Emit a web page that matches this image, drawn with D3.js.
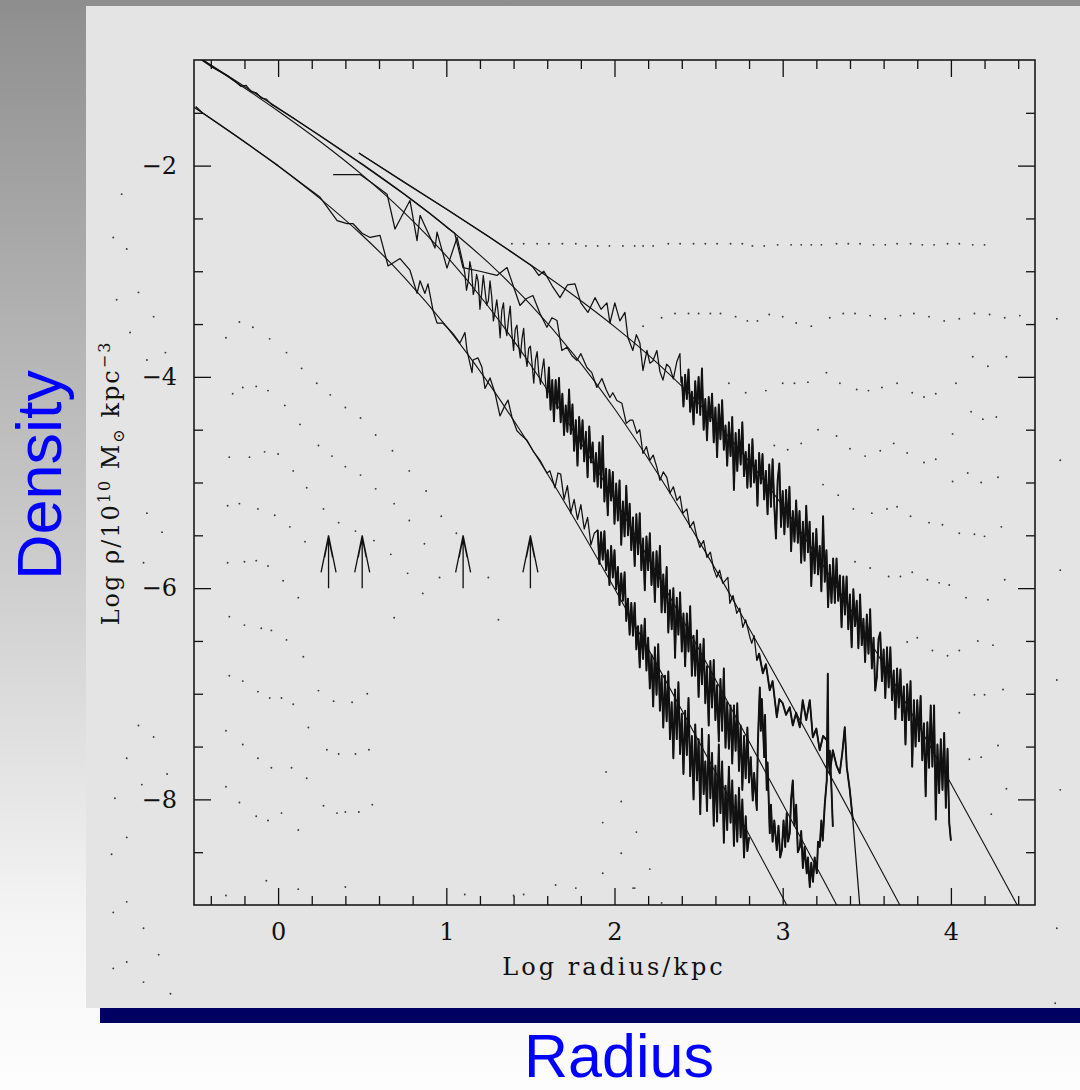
<!DOCTYPE html>
<html>
<head>
<meta charset="utf-8">
<script src="https://cdn.jsdelivr.net/npm/d3@7"></script>
<style>
  body { margin: 0; background: #fff; }
  svg { display: block; }
</style>
</head>
<body>
<div id="vis"></div>
<script>
// axis ticks (log radius / log density)
var xMajorTicks = [0, 1, 2, 3, 4];
var xMinorTicks = [-0.4, -0.2, 0.2, 0.4, 0.6, 0.8, 1.2, 1.4, 1.6, 1.8, 2.2, 2.4, 2.6, 2.8, 3.2, 3.4, 3.6, 3.8, 4.2, 4.4];
var yMajorTicks = [-2, -4, -6, -8];
var yMinorTicks = [-1.5, -2.5, -3, -3.5, -4.5, -5, -5.5, -6.5, -7, -7.5, -8.5];

// arrows marking radii
var arrowRadii = [0.3, 0.5, 1.1, 1.5];
var arrowFrom = -6, arrowTo = -5.5;

// smooth profile fits [log r, log rho]
var fit1 = [[-0.5,-1.447],[-0.25,-1.717],[0,-2.003],[0.25,-2.312],[0.5,-2.659],[0.75,-3.057],[1.0,-3.522],[1.25,-4.057],[1.5,-4.659],[1.75,-5.312],[2.0,-6.003],[2.25,-6.717],[2.5,-7.447],[2.75,-8.185],[3.0,-8.929],[3.1,-9.23]];
var fit2 = [[-0.5,-0.947],[-0.25,-1.21],[0,-1.483],[0.25,-1.772],[0.5,-2.088],[0.75,-2.444],[1.0,-2.855],[1.25,-3.334],[1.5,-3.883],[1.75,-4.496],[2.0,-5.158],[2.25,-5.854],[2.5,-6.572],[2.75,-7.304],[3.0,-8.044],[3.25,-8.788],[3.4,-9.236]];
var fit3 = [[-0.5,-0.945],[-0.25,-1.198],[0,-1.455],[0.25,-1.716],[0.5,-1.985],[0.75,-2.269],[1.0,-2.576],[1.25,-2.919],[1.5,-3.313],[1.75,-3.772],[2.0,-4.302],[2.25,-4.898],[2.5,-5.548],[2.75,-6.237],[3.0,-6.95],[3.25,-7.678],[3.5,-8.416],[3.75,-9.159]];
var fit4 = [[0.48,-1.88],[0.75,-2.154],[1.0,-2.41],[1.25,-2.67],[1.5,-2.939],[1.75,-3.22],[2.0,-3.524],[2.25,-3.862],[2.5,-4.249],[2.75,-4.70],[3.0,-5.221],[3.25,-5.81],[3.5,-6.454],[3.75,-7.138],[4.0,-7.849],[4.25,-8.576],[4.5,-9.313]];

// measured density profiles [log r, log rho]
var halo1 = [[-0.49,-1.44],[-0.45,-1.50],[-0.25,-1.72],[0,-2.00],[0.15,-2.18],[0.25,-2.30],[0.351,-2.52],[0.41,-2.55],[0.446,-2.55],[0.499,-2.64],[0.547,-2.68],[0.606,-2.66],[0.654,-2.95],[0.725,-2.88],[0.784,-2.99],[0.826,-3.21],[0.844,-3.09],[0.873,-3.21],[0.891,-3.12],[0.921,-3.37],[0.945,-3.49],[0.98,-3.49],[1.04,-3.59],[1.081,-3.68],[1.111,-3.58],[1.123,-3.75],[1.153,-3.96],[1.159,-3.84],[1.188,-3.82],[1.212,-3.91],[1.23,-4.11],[1.26,-4.01],[1.289,-4.15],[1.319,-4.37],[1.349,-4.27],[1.367,-4.22],[1.39,-4.38],[1.42,-4.51],[1.438,-4.54],[1.48,-4.60],[1.515,-4.70],[1.557,-4.79],[1.598,-4.91],[1.616,-4.89],[1.646,-5.05],[1.664,-4.91],
  [1.68,-4.92],[1.70,-5.16],[1.72,-5.03],[1.74,-5.29],[1.76,-5.16],[1.78,-5.35],[1.80,-5.21],[1.82,-5.44],[1.84,-5.33],[1.86,-5.59],[1.88,-5.48],
  [1.90,-5.45],[1.91,-5.77],[1.92,-5.47],[1.93,-5.73],[1.94,-5.46],[1.95,-5.83],[1.96,-5.64],[1.97,-5.97],[1.98,-5.60],[1.99,-5.90],
  [2.00,-5.64],[2.01,-6.01],[2.02,-5.80],[2.03,-6.16],[2.04,-5.86],[2.05,-6.12],[2.06,-5.85],[2.07,-6.31],[2.08,-6.10],[2.09,-6.44],
  [2.10,-6.14],[2.11,-6.45],[2.12,-6.14],[2.13,-6.58],[2.14,-6.36],[2.15,-6.75],[2.16,-6.35],[2.17,-6.67],[2.18,-6.29],[2.19,-6.78],
  [2.20,-6.47],[2.21,-6.95],[2.22,-6.63],[2.23,-7.12],[2.24,-6.56],[2.25,-7.01],[2.26,-6.53],[2.27,-7.16],[2.28,-6.83],[2.29,-7.32],
  [2.30,-6.83],[2.31,-7.26],[2.32,-6.79],[2.33,-7.43],[2.34,-7.08],[2.35,-7.61],[2.36,-6.96],[2.37,-7.43],[2.38,-6.89],[2.39,-7.57],
  [2.40,-7.19],[2.41,-7.76],[2.42,-7.16],[2.43,-7.58],[2.44,-7.04],[2.45,-7.78],[2.46,-7.40],[2.47,-8.00],[2.48,-7.29],[2.49,-7.82],
  [2.50,-7.43],[2.51,-8.14],[2.52,-7.33],[2.53,-7.95],[2.54,-7.64],[2.55,-8.11],[2.56,-7.39],[2.57,-7.99],[2.58,-7.56],[2.59,-8.25],
  [2.60,-7.68],[2.61,-8.21],[2.62,-7.48],[2.63,-8.13],[2.64,-7.64],[2.65,-8.41],[2.66,-7.87],[2.67,-8.29],[2.68,-7.69],[2.69,-8.22],
  [2.70,-7.82],[2.71,-8.44],[2.72,-7.96],[2.73,-8.40],[2.74,-7.89],[2.75,-8.36],[2.76,-8.00],[2.77,-8.55],[2.78,-8.16],[2.79,-8.49],
  [2.80,-8.36]];

var halo2 = [[0.327,-2.085],[0.487,-2.085],[0.55,-2.155],[0.648,-2.27],[0.695,-2.60],[0.784,-2.33],[0.826,-2.71],[0.844,-2.47],[0.933,-2.78],[0.945,-2.63],[1.004,-2.97],[1.064,-2.68],
  [1.10,-2.93],[1.11,-3.02],[1.12,-3.18],[1.13,-3.10],[1.14,-2.91],[1.15,-2.99],[1.16,-3.22],[1.17,-3.16],[1.18,-3.03],[1.19,-3.10],[1.20,-3.36],[1.21,-3.21],[1.22,-3.04],[1.23,-3.18],[1.24,-3.32],[1.25,-3.28],[1.26,-3.09],[1.27,-3.24],[1.28,-3.47],[1.29,-3.38],[1.30,-3.27],[1.31,-3.41],[1.32,-3.63],[1.33,-3.37],[1.34,-3.30],[1.35,-3.52],[1.36,-3.61],[1.37,-3.45],[1.38,-3.33],[1.39,-3.59],[1.40,-3.75],[1.41,-3.55],[1.42,-3.51],[1.43,-3.70],[1.44,-3.82],[1.45,-3.64],[1.46,-3.54],[1.47,-3.79],[1.48,-3.90],[1.49,-3.73],[1.50,-3.71],[1.51,-3.88],[1.52,-4.06],[1.53,-3.84],[1.54,-3.76],[1.55,-3.97],[1.56,-4.07],[1.57,-3.93],[1.58,-3.83],[1.59,-4.05],
  [1.60,-4.20],[1.61,-3.91],[1.62,-4.31],[1.63,-4.03],[1.64,-4.42],[1.65,-4.03],[1.66,-4.30],[1.67,-4.01],[1.68,-4.43],[1.69,-4.16],
  [1.70,-4.55],[1.71,-4.27],[1.72,-4.52],[1.73,-4.12],[1.74,-4.54],[1.75,-4.26],[1.76,-4.70],[1.77,-4.41],[1.78,-4.84],[1.79,-4.38],
  [1.80,-4.68],[1.81,-4.41],[1.82,-4.80],[1.83,-4.52],[1.84,-4.95],[1.85,-4.47],[1.86,-4.81],[1.87,-4.62],[1.88,-4.99],[1.89,-4.72],
  [1.90,-5.04],[1.91,-4.62],[1.92,-5.05],[1.93,-4.56],[1.94,-5.18],[1.95,-4.87],[1.96,-5.31],[1.97,-4.88],[1.98,-5.17],[1.99,-4.90],
  [2.00,-5.39],[2.01,-5.01],[2.02,-5.36],[2.03,-4.98],[2.04,-5.59],[2.05,-5.18],[2.06,-5.51],[2.07,-5.03],[2.08,-5.50],[2.09,-5.20],
  [2.10,-5.64],[2.11,-5.33],[2.12,-5.79],[2.13,-5.30],[2.14,-5.68],[2.15,-5.29],[2.16,-5.83],[2.17,-5.53],[2.18,-6.02],[2.19,-5.51],
  [2.20,-5.83],[2.21,-5.48],[2.22,-5.97],[2.23,-5.66],[2.24,-6.13],[2.25,-5.65],[2.26,-5.99],[2.27,-5.60],[2.28,-6.23],[2.29,-5.87],
  [2.30,-6.23],[2.31,-5.80],[2.32,-6.42],[2.33,-6.02],[2.34,-6.39],[2.35,-6.00],[2.36,-6.66],[2.37,-6.09],[2.38,-6.44],[2.39,-6.04],
  [2.40,-6.60],[2.41,-6.24],[2.42,-6.74],[2.43,-6.24],[2.44,-6.60],[2.45,-6.17],[2.46,-6.83],[2.47,-6.45],[2.48,-6.83],[2.49,-6.40],
  [2.50,-7.03],[2.51,-6.53],[2.52,-6.91],[2.53,-6.48],[2.54,-7.09],[2.55,-6.74],[2.56,-7.30],[2.57,-6.69],[2.58,-7.13],[2.59,-6.68],
  [2.60,-7.25],[2.61,-6.92],[2.62,-7.45],[2.63,-6.86],[2.64,-7.35],[2.65,-6.76],[2.66,-7.51],[2.67,-7.08],[2.68,-7.52],[2.69,-7.11],
  [2.70,-7.66],[2.71,-7.11],[2.72,-7.54],[2.73,-7.09],[2.74,-7.73],[2.75,-7.30],[2.76,-7.91],[2.77,-7.40],[2.78,-7.80],[2.79,-7.32],
  [2.80,-7.84],[2.81,-7.60],[2.822,-8.01],[2.83,-7.75],[2.846,-8.10],[2.852,-7.50],[2.858,-7.20],[2.864,-6.94],[2.87,-7.35],[2.876,-7.05],[2.882,-7.28],[2.89,-7.60],[2.895,-7.20],[2.905,-7.91],[2.91,-7.65],[2.923,-8.32],[2.93,-8.05],[2.94,-8.40],[2.95,-8.20],[2.965,-8.48],[2.975,-8.25],[2.985,-8.55],[2.995,-8.48],[3.005,-8.20],[3.015,-8.45],[3.024,-8.13],[3.032,-8.40],[3.042,-8.32],[3.05,-8.00],[3.06,-7.82],[3.07,-8.25],[3.08,-8.05],[3.09,-8.50],[3.102,-8.45],[3.11,-8.30],[3.12,-8.65],[3.13,-8.45],[3.143,-8.70],[3.15,-8.55],[3.161,-8.83],[3.17,-8.60],[3.18,-8.78],[3.19,-8.55],[3.203,-8.70],[3.21,-8.40],[3.22,-8.45],[3.23,-8.20],[3.238,-8.39],[3.25,-8.05],[3.262,-7.82],[3.268,-6.81],[3.272,-7.60],[3.28,-7.54],[3.29,-7.90],[3.298,-8.26]];

var halo3 = [[-0.5,-0.95],[-0.4,-1.06],[-0.3,-1.15],[-0.25,-1.21],[-0.22,-1.25],[-0.19,-1.24],[-0.16,-1.30],[-0.13,-1.31],[-0.10,-1.36],[-0.07,-1.37],[-0.04,-1.42],[0,-1.46],[0.1,-1.56],[0.25,-1.72],[0.5,-1.99],[0.75,-2.27],[0.9,-2.45],[1.0,-2.58],[1.05,-2.64],[1.099,-2.965],[1.2,-3.00],[1.301,-3.04],[1.361,-2.965],[1.438,-3.324],[1.475,-3.26],[1.515,-3.23],[1.557,-3.40],[1.598,-3.53],[1.628,-3.44],[1.658,-3.466],[1.687,-3.75],[1.717,-3.72],[1.747,-3.80],[1.777,-3.845],[1.80,-3.78],[1.836,-3.911],[1.865,-3.96],[1.895,-4.10],[1.925,-4.015],[1.95,-4.12],[1.973,-4.195],[1.99,-4.15],[2.014,-4.223],[2.044,-4.25],[2.07,-4.44],[2.092,-4.41],
  [2.109,-4.41],[2.133,-4.535],[2.15,-4.50],[2.169,-4.725],[2.19,-4.66],[2.21,-4.79],[2.23,-4.74],[2.252,-4.857],[2.27,-4.98],[2.29,-4.90],[2.311,-4.952],[2.33,-5.10],[2.35,-5.04],[2.371,-5.169],[2.39,-5.13],[2.406,-5.292],[2.43,-5.25],[2.448,-5.425],[2.47,-5.37],[2.49,-5.52],[2.507,-5.614],[2.53,-5.55],[2.549,-5.709],[2.57,-5.66],[2.59,-5.82],[2.608,-5.898],[2.625,-5.83],[2.644,-5.955],[2.674,-5.898],[2.686,-6.144],[2.705,-6.07],[2.727,-6.238],[2.745,-6.19],[2.763,-6.371],[2.78,-6.30],[2.805,-6.466],[2.816,-6.522],[2.83,-6.45],[2.846,-6.683],[2.86,-6.62],[2.882,-6.806],[2.90,-6.72],[2.923,-6.967],[2.94,-6.88],[2.965,-7.222],[2.98,-7.05],[3.0,-7.09],[3.02,-7.20],[3.042,-7.128],[3.06,-7.30],[3.08,-7.18],[3.102,-7.317],[3.119,-7.061],[3.14,-7.25],[3.161,-7.061],[3.179,-7.412],[3.20,-7.33],[3.22,-7.535],[3.24,-7.40],[3.262,-7.44],[3.28,-7.752],[3.298,-7.535],[3.32,-7.68],[3.339,-7.752],[3.355,-7.55],[3.369,-7.317],[3.381,-7.695],[3.399,-7.913],[3.417,-8.197],[3.458,-9.0],[3.465,-9.2]];

var halo4 = [[0.48,-1.88],[0.75,-2.16],[1.0,-2.41],[1.25,-2.67],[1.5,-2.94],[1.515,-2.96],[1.55,-3.04],[1.58,-3.00],[1.63,-3.14],[1.676,-3.25],[1.72,-3.13],[1.765,-3.12],[1.80,-3.30],[1.842,-3.39],[1.884,-3.25],[1.92,-3.36],[1.955,-3.30],[1.973,-3.49],[2.002,-3.30],[2.032,-3.47],[2.062,-3.39],[2.08,-3.63],[2.109,-3.75],[2.13,-3.60],[2.151,-3.68],[2.169,-3.94],[2.193,-3.75],[2.21,-3.87],[2.228,-3.85],[2.252,-3.75],[2.27,-3.95],[2.288,-4.03],[2.31,-3.88],[2.329,-3.91],[2.35,-4.02],[2.37,-3.86],[2.389,-3.78],[2.395,-4.05],
  [2.40,-4.00],[2.41,-4.28],[2.42,-3.98],[2.43,-4.21],[2.44,-3.93],[2.45,-4.33],[2.46,-4.14],[2.47,-4.45],[2.48,-4.04],[2.49,-4.34],
  [2.50,-4.00],[2.51,-4.36],[2.52,-3.92],[2.53,-4.50],[2.54,-4.21],[2.55,-4.60],[2.56,-4.19],[2.57,-4.42],[2.58,-4.16],[2.59,-4.62],
  [2.60,-4.29],[2.61,-4.76],[2.62,-4.26],[2.63,-4.59],[2.64,-4.22],[2.65,-4.69],[2.66,-4.46],[2.67,-4.84],[2.68,-4.43],[2.69,-4.75],
  [2.70,-4.38],[2.71,-5.07],[2.72,-4.53],[2.73,-4.89],[2.74,-4.50],[2.75,-4.83],[2.76,-4.43],[2.77,-4.94],[2.78,-4.71],[2.79,-5.05],
  [2.80,-4.64],[2.81,-5.04],[2.82,-4.59],[2.83,-5.00],[2.84,-4.79],[2.85,-5.22],[2.86,-4.72],[2.87,-5.01],[2.88,-4.73],[2.89,-5.16],
  [2.90,-4.89],[2.91,-5.30],[2.92,-4.83],[2.93,-5.23],[2.94,-4.78],[2.95,-5.22],[2.96,-5.53],[2.97,-4.98],[2.98,-4.82],[2.99,-5.42],
  [3.00,-5.08],[3.01,-5.49],[3.02,-5.07],[3.03,-5.42],[3.04,-5.04],[3.05,-5.65],[3.06,-5.27],[3.07,-5.56],[3.08,-5.17],[3.09,-5.57],
  [3.10,-5.27],[3.11,-5.76],[3.12,-5.37],[3.13,-5.74],[3.14,-5.22],[3.15,-5.66],[3.16,-5.37],[3.17,-5.98],[3.18,-5.48],[3.19,-5.86],
  [3.20,-5.44],[3.21,-5.87],[3.22,-5.60],[3.23,-6.03],[3.24,-5.32],[3.25,-5.94],[3.26,-5.64],[3.27,-6.18],[3.28,-5.78],[3.29,-6.14],
  [3.30,-5.72],[3.31,-6.14],[3.32,-5.72],[3.33,-6.12],[3.34,-5.88],[3.35,-6.37],[3.36,-5.89],[3.37,-6.25],[3.38,-5.89],[3.39,-6.39],
  [3.40,-6.06],[3.41,-6.56],[3.42,-6.01],[3.43,-6.36],[3.44,-6.12],[3.45,-6.57],[3.46,-6.06],[3.47,-6.54],[3.48,-6.29],[3.49,-6.70],
  [3.50,-6.25],[3.51,-6.62],[3.52,-6.20],[3.53,-6.76],[3.54,-6.47],[3.55,-6.97],[3.56,-6.84],[3.57,-6.48],[3.58,-6.42],[3.59,-6.88],
  [3.60,-6.58],[3.61,-7.04],[3.62,-6.56],[3.63,-6.94],[3.64,-6.56],[3.65,-7.06],[3.66,-6.78],[3.67,-7.24],[3.68,-6.76],[3.69,-7.13],
  [3.70,-6.77],[3.71,-7.25],[3.72,-6.93],[3.73,-7.48],[3.74,-6.91],[3.75,-7.25],[3.76,-6.88],[3.77,-7.69],[3.78,-7.06],[3.79,-7.50],
  [3.80,-7.06],[3.81,-7.45],[3.82,-7.02],[3.83,-7.63],[3.84,-7.28],[3.85,-7.97],[3.86,-7.27],[3.87,-7.70],[3.88,-7.11],[3.89,-7.69],
  [3.90,-7.11],[3.91,-8.19],[3.92,-7.48],[3.93,-7.94],[3.94,-7.43],[3.95,-7.91],[3.96,-7.37],[3.97,-8.08],[3.98,-7.52],[3.99,-8.22],
  [4.00,-8.39]];

// where each profile prints as a dense noisy band [halo index, from, to]
var denseRanges = [[0, 1.9, 2.8], [1, 1.6, 3.3], [2, 2.84, 3.42], [3, 2.4, 4.0]];

// faint dotted pattern of the slide background, same axes units
var bgDots = [[1.39,-2.74],[1.46,-2.74],[1.54,-2.74],[1.61,-2.74],[1.69,-2.74],[1.77,-2.74],[1.83,-2.76],[1.90,-2.76],[1.97,-2.76],[2.05,-2.76],[2.12,-2.76],[2.17,-2.76],[2.23,-2.76],[2.32,-2.74],[2.39,-2.74],[2.47,-2.74],[2.54,-2.74],[2.61,-2.74],[2.69,-2.74],[2.76,-2.74],[2.82,-2.76],[2.89,-2.76],[2.97,-2.75],[3.05,-2.75],[3.11,-2.75],[3.17,-2.75],[3.23,-2.75],[3.32,-2.74],[3.39,-2.74],[3.46,-2.74],[3.54,-2.75],[3.61,-2.75],[3.68,-2.74],[3.76,-2.74],[3.83,-2.75],[3.90,-2.75],[3.98,-2.74],[4.05,-2.74],[4.13,-2.75],[4.20,-2.75],
  [2.17,-3.52],[2.28,-3.44],[2.36,-3.40],[2.44,-3.40],[2.50,-3.40],[2.57,-3.40],[2.63,-3.40],[2.72,-3.43],[2.79,-3.47],[2.85,-3.47],[2.92,-3.41],[3.00,-3.43],[3.08,-3.49],[3.17,-3.52],[3.28,-3.44],[3.36,-3.40],[3.43,-3.40],[3.52,-3.42],[3.61,-3.45],[3.70,-3.42],[3.78,-3.40],[3.87,-3.43],[3.96,-3.47],[4.05,-3.45],[4.14,-3.40],[4.23,-3.41],[4.32,-3.44],[4.41,-3.42],[4.63,-3.45],
  [4.13,-3.81],[4.33,-3.81],[4.22,-3.90],[3.26,-3.96],[2.68,-4.06],[2.78,-4.15],[2.90,-4.13],[3.00,-4.06],[3.07,-4.06],[3.15,-4.05],[3.34,-4.06],[3.44,-4.12],[3.51,-4.13],[3.59,-4.10],[3.68,-4.06],[3.77,-4.15],[3.84,-4.19],[3.91,-4.16],[4.03,-4.06],
  [4.12,-4.33],[4.19,-4.40],[4.27,-4.38],[3.21,-4.50],[3.32,-4.56],[4.01,-4.54],[2.95,-4.65],[3.03,-4.69],[3.11,-4.63],[3.40,-4.68],[3.49,-4.75],[3.58,-4.70],[3.66,-4.63],[3.74,-4.72],[3.84,-4.81],[3.91,-4.78],[4.10,-4.91],[4.18,-5.00],[4.28,-4.95],[4.01,-4.99],
  [3.24,-5.02],[3.33,-5.12],[3.42,-5.25],[3.53,-5.29],[3.62,-5.25],[3.68,-5.23],[3.76,-5.32],[3.87,-5.38],[3.95,-5.40],[4.05,-5.48],[4.14,-5.49],[4.20,-5.51],[4.30,-5.42],
  [3.43,-5.75],[3.52,-5.81],[3.63,-5.89],[3.70,-5.89],[3.77,-5.85],[3.86,-5.92],[3.93,-5.95],[3.99,-5.97],[4.09,-6.09],[4.22,-6.11],[4.32,-5.92],
  [3.74,-6.51],[3.80,-6.47],[3.89,-6.59],[3.98,-6.64],[4.05,-6.59],[4.16,-6.50],[4.25,-6.54],
  [4.14,-7.01],[4.20,-7.01],[4.31,-6.96],[4.05,-7.18],[4.28,-7.49],[4.11,-7.62],[4.18,-7.60],[4.33,-7.90],[4.24,-8.14],
  [4.65,-4.79],[4.65,-5.83],[4.63,-6.87],[4.65,-7.91],[4.63,-9.22],[4.62,-9.93],
  [-0.23,-3.48],[-0.15,-3.53],[-0.31,-3.63],[-0.05,-3.64],[0.05,-3.77],[0.14,-3.92],[0.23,-4.06],[0.31,-4.17],[0.40,-4.29],[0.49,-4.39],[0.58,-4.55],[0.68,-4.70],[0.78,-4.89],[0.88,-5.08],[0.97,-5.32],[1.06,-5.48],
  [-0.27,-4.16],[-0.21,-4.10],[-0.13,-4.09],[-0.06,-4.13],[0.04,-4.27],[0.13,-4.45],[0.24,-4.65],[0.32,-4.75],[0.40,-4.85],[0.49,-4.93],[0.58,-5.06],[0.69,-5.20],[0.78,-5.36],[0.87,-5.58],[0.96,-5.90],
  [-0.29,-4.76],[-0.17,-4.76],[-0.08,-4.71],[0,-4.73],[0.09,-4.89],[0.17,-5.05],[0.27,-5.25],[0.36,-5.38],[0.46,-5.46],[0.57,-5.55],[0.67,-5.68],[0.77,-5.86],
  [-0.30,-5.22],[-0.23,-5.20],[-0.12,-5.25],[-0.02,-5.31],[0.07,-5.42],[0.16,-5.56],
  [-0.30,-5.76],[-0.20,-5.75],[-0.13,-5.74],[-0.06,-5.79],[0.03,-5.93],[0.12,-6.09],
  [-0.29,-6.27],[-0.20,-6.35],[-0.10,-6.38],[-0.04,-6.40],[0.05,-6.49],[0.15,-6.65],
  [-0.29,-6.83],[-0.21,-6.88],[-0.12,-6.98],[-0.05,-7.04],[0.02,-7.04],[0.09,-7.10],[0.24,-6.97],[0.33,-7.07],[0.44,-7.08],[0.53,-7.00],[0.18,-7.32],
  [-0.31,-7.35],[-0.21,-7.48],[-0.12,-7.61],[-0.04,-7.70],[0.08,-7.70],[0.17,-7.80],[0.29,-7.53],[0.36,-7.57],[0.46,-7.57],[0.54,-7.53],
  [-0.31,-7.88],[-0.23,-8.03],[-0.13,-8.16],[-0.06,-8.20],[0.02,-8.13],[0.12,-8.29],[0.27,-8.06],[0.35,-8.13],[0.40,-8.12],[0.48,-8.12],[0.56,-8.05],
  [1.25,-5.90],[1.31,-6.30],[0.69,-6.28],[0.86,-6.05],
  [1.95,-7.74],[2.04,-8.02],[1.93,-8.22],[2.13,-8.31],[2.04,-8.51],[2.21,-8.66],[1.93,-8.70],[2.12,-8.84],
  [-0.31,-8.91],[-0.07,-8.77],[0.12,-8.85],[0.40,-8.83],[1.11,-8.90],[1.40,-8.91],[1.46,-8.90],[1.65,-8.81],[1.77,-8.84],[2.11,-8.84],[2.28,-8.98],
  [-0.93,-2.27],[-0.98,-2.68],[-0.90,-2.79],[-0.83,-3.20],[-0.96,-3.27],[-0.74,-3.43],[-0.88,-3.58],[-0.67,-3.77],[-0.78,-3.84],[-0.78,-5.29],[-0.69,-5.47],[-0.80,-5.76],[-0.83,-7.30],[-0.74,-7.41],[-0.90,-7.61],[-0.81,-7.86],[-0.66,-7.76],[-0.97,-7.99],[-0.90,-8.36],[-0.99,-8.52],[-0.90,-8.97],[-0.98,-9.07],[-0.80,-9.22],[-0.71,-9.47],[-0.90,-9.54],[-0.98,-9.60],[-0.80,-9.73],[-0.64,-9.84]];

(function() {
  var W = 1080, H = 1090;
  var PLOT = {left: 194, right: 1035, top: 60, bottom: 905};
  var serif = '"DejaVu Serif", "Liberation Serif", serif';
  var sans = '"Liberation Sans", Arial, sans-serif';
  var ink = '#111';

  var svg = d3.select('#vis').append('svg').attr('width', W).attr('height', H);
  var defs = svg.append('defs');
  var grad = defs.append('linearGradient').attr('id', 'slidebg')
    .attr('x1', 0).attr('y1', 0).attr('x2', 0).attr('y2', 1);
  grad.append('stop').attr('offset', 0).attr('stop-color', '#8e8e8e');
  grad.append('stop').attr('offset', 0.85).attr('stop-color', '#f5f5f5');
  grad.append('stop').attr('offset', 1).attr('stop-color', '#fdfdfd');
  defs.append('clipPath').attr('id', 'plotclip').append('rect')
    .attr('x', PLOT.left).attr('y', PLOT.top)
    .attr('width', PLOT.right - PLOT.left).attr('height', PLOT.bottom - PLOT.top);

  // slide background, panel and rule
  svg.append('rect').attr('width', W).attr('height', H).attr('fill', 'url(#slidebg)');
  svg.append('rect').attr('x', 86).attr('y', 6).attr('width', W - 86).attr('height', 1002).attr('fill', '#e4e4e4');
  svg.append('rect').attr('x', 100).attr('y', 1008).attr('width', W - 100).attr('height', 15).attr('fill', '#000062');

  var x = d3.scaleLinear().domain([-0.5, 4.5]).range([PLOT.left, PLOT.right]);
  var y = d3.scaleLinear().domain([-9, -1]).range([PLOT.bottom, PLOT.top]);

  svg.append('g').selectAll('circle').data(bgDots).enter().append('circle')
    .attr('cx', function(d) { return x(d[0]); })
    .attr('cy', function(d) { return y(d[1]); })
    .attr('r', 0.95).attr('fill', '#3a3a3a');

  // ticks on all four sides, pointing inwards
  function axisGroup(axis, tx, ty) {
    var g = svg.append('g').attr('transform', 'translate(' + tx + ',' + ty + ')').call(axis);
    g.select('.domain').remove();
    g.attr('font-family', serif).attr('font-size', 24).attr('color', ink);
    g.selectAll('line').attr('stroke-width', 1.3);
    return g;
  }
  var fmt = d3.format('d');
  axisGroup(d3.axisBottom(x).tickValues(xMajorTicks).tickSize(-17).tickPadding(18).tickFormat(fmt), 0, PLOT.bottom);
  axisGroup(d3.axisBottom(x).tickValues(xMinorTicks).tickSize(-9).tickFormat(''), 0, PLOT.bottom);
  axisGroup(d3.axisTop(x).tickValues(xMajorTicks).tickSize(-17).tickFormat(''), 0, PLOT.top);
  axisGroup(d3.axisTop(x).tickValues(xMinorTicks).tickSize(-9).tickFormat(''), 0, PLOT.top);
  axisGroup(d3.axisLeft(y).tickValues(yMajorTicks).tickSize(-17).tickPadding(17).tickFormat(fmt), PLOT.left, 0);
  axisGroup(d3.axisLeft(y).tickValues(yMinorTicks).tickSize(-9).tickFormat(''), PLOT.left, 0);
  axisGroup(d3.axisRight(y).tickValues(yMajorTicks).tickSize(-17).tickFormat(''), PLOT.right, 0);
  axisGroup(d3.axisRight(y).tickValues(yMinorTicks).tickSize(-9).tickFormat(''), PLOT.right, 0);

  svg.append('rect')
    .attr('x', PLOT.left).attr('y', PLOT.top)
    .attr('width', PLOT.right - PLOT.left).attr('height', PLOT.bottom - PLOT.top)
    .attr('fill', 'none').attr('stroke', '#1a1a1a').attr('stroke-width', 1.6);

  var plot = svg.append('g').attr('clip-path', 'url(#plotclip)');
  var smooth = d3.line().curve(d3.curveMonotoneX)
    .x(function(d) { return x(d[0]); }).y(function(d) { return y(d[1]); });
  var jagged = d3.line()
    .x(function(d) { return x(d[0]); }).y(function(d) { return y(d[1]); });

  [fit1, fit2, fit3, fit4].forEach(function(f) {
    plot.append('path').attr('d', smooth(f)).attr('fill', 'none')
      .attr('stroke', ink).attr('stroke-width', 1.1);
  });
  var halos = [halo1, halo2, halo3, halo4];
  halos.forEach(function(h) {
    plot.append('path').attr('d', jagged(h)).attr('fill', 'none')
      .attr('stroke', ink).attr('stroke-width', 1.25).attr('stroke-linejoin', 'round');
  });
  // the dense parts print as nearly solid black bands
  denseRanges.forEach(function(rg) {
    var part = halos[rg[0]].filter(function(d) { return d[0] >= rg[1] && d[0] <= rg[2]; });
    plot.append('path').attr('d', jagged(part)).attr('fill', 'none')
      .attr('stroke', ink).attr('stroke-width', 1.9).attr('stroke-linejoin', 'round');
  });

  // arrows
  plot.selectAll('path.arrow').data(arrowRadii).enter().append('path')
    .attr('class', 'arrow')
    .attr('d', function(r) {
      var ax = x(r), y0 = y(arrowFrom), y1 = y(arrowTo);
      return 'M' + ax + ',' + y0 + 'L' + ax + ',' + y1 +
        'M' + (ax - 7.5) + ',' + (y1 + 37) + 'L' + ax + ',' + y1 + 'L' + (ax + 7.5) + ',' + (y1 + 37) +
        'M' + (ax - 4) + ',' + (y1 + 22) + 'L' + ax + ',' + (y1 + 2) + 'L' + (ax + 4) + ',' + (y1 + 22);
    })
    .attr('fill', 'none').attr('stroke', ink).attr('stroke-width', 1.3);

  // axis titles
  svg.append('text').attr('x', 614).attr('y', 975)
    .attr('text-anchor', 'middle').attr('font-family', serif).attr('font-size', 24)
    .attr('letter-spacing', 3).attr('fill', ink)
    .text('Log radius/kpc');

  var yt = svg.append('text').attr('transform', 'translate(119,483) rotate(-90)')
    .attr('text-anchor', 'middle').attr('font-family', serif).attr('font-size', 24)
    .attr('letter-spacing', 2).attr('fill', ink);
  yt.append('tspan').text('Log \u03c1/10');
  yt.append('tspan').attr('font-size', 16).attr('dy', -9).text('10');
  yt.append('tspan').attr('dy', 9).text(' M');
  yt.append('tspan').attr('font-size', 16).attr('dy', 5).text('\u2299');
  yt.append('tspan').attr('dy', -5).text(' kpc');
  yt.append('tspan').attr('font-size', 16).attr('dy', -9).text('\u22123');

  // slide labels
  svg.append('text').attr('transform', 'translate(61,475) rotate(-90)')
    .attr('text-anchor', 'middle').attr('font-family', sans).attr('font-size', 63)
    .attr('fill', '#0000ff').text('Density');
  svg.append('text').attr('x', 619).attr('y', 1077)
    .attr('text-anchor', 'middle').attr('font-family', sans).attr('font-size', 61)
    .attr('fill', '#0000ff').text('Radius');
})();
</script>
</body>
</html>
